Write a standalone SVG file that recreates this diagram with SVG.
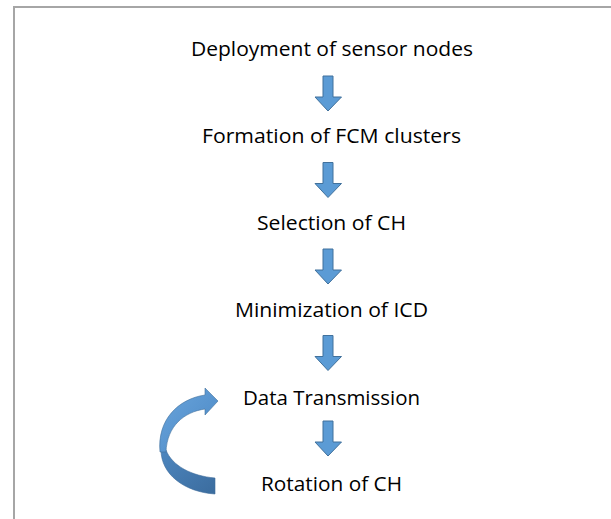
<svg xmlns="http://www.w3.org/2000/svg" width="611" height="519" viewBox="0 0 611 519">
<defs>
<style>
.t{font-family:"Open Sans","Liberation Sans",sans-serif;font-size:20px;fill:#000;text-anchor:middle}
.da{fill:#5b9bd5;stroke:#41719c;stroke-width:1}
</style>
<linearGradient id="lg" x1="0" y1="0" x2="1" y2="1">
<stop offset="0" stop-color="#6aa5dc"/>
<stop offset="1" stop-color="#4a87c4"/>
</linearGradient>
<linearGradient id="dg" x1="0" y1="0" x2="1" y2="1">
<stop offset="0" stop-color="#4d86bf"/>
<stop offset="1" stop-color="#3b6c9e"/>
</linearGradient>
<path id="arr" d="M323 0 H333 V21 H341.5 L328 35 L315 21 H323 Z"/>
</defs>
<rect width="611" height="519" fill="#fff"/>
<path d="M14 519 V7 H611" fill="none" stroke="#a6a6a6" stroke-width="2"/>
<g id="connectors">
<use href="#arr" class="da" y="76"/>
<use href="#arr" class="da" y="162.5"/>
<use href="#arr" class="da" y="249"/>
<use href="#arr" class="da" y="335.5"/>
<use href="#arr" class="da" y="421"/>
<g id="loop">
<path d="M161 450 C161 474 184 492 215 494 L215 478 C192 476 172 466 166 450 Z" fill="url(#dg)" stroke="#3e6c9a" stroke-width="0.6"/>
<path d="M160 452 C157 420 178 399 205 395 L205 388 L218 401 L205 415 L205 409 C184 412 167 426 166 452 Z" fill="url(#lg)" stroke="#41719c" stroke-width="0.6"/>
</g>
</g>
<g id="n1"><text class="t" x="332" y="55.5" textLength="282" lengthAdjust="spacingAndGlyphs">Deployment of sensor nodes</text></g>
<g id="n2"><text class="t" x="331.5" y="142.7" textLength="259" lengthAdjust="spacingAndGlyphs">Formation of FCM clusters</text></g>
<g id="n3"><text class="t" x="331.5" y="229.9" textLength="149" lengthAdjust="spacingAndGlyphs">Selection of CH</text></g>
<g id="n4"><text class="t" x="331.5" y="317.1" textLength="193" lengthAdjust="spacingAndGlyphs">Minimization of ICD</text></g>
<g id="n5"><text class="t" x="331.5" y="404.5" textLength="177" lengthAdjust="spacingAndGlyphs">Data Transmission</text></g>
<g id="n6"><text class="t" x="331.5" y="491" textLength="141" lengthAdjust="spacingAndGlyphs">Rotation of CH</text></g>
</svg>
